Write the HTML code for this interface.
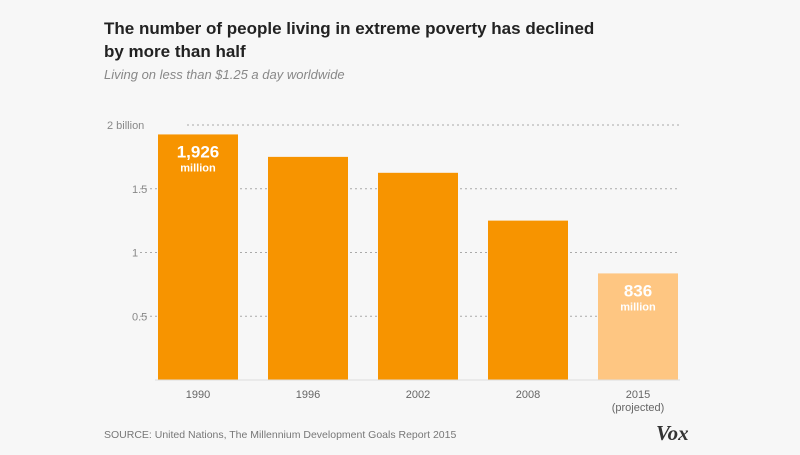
<!DOCTYPE html>
<html><head><meta charset="utf-8"><style>
body{margin:0;background:#f7f7f7;width:800px;height:450px;overflow:hidden;font-family:"Liberation Sans",sans-serif;}
</style></head><body>
<svg width="800" height="450">
<rect width="800" height="450" fill="#f7f7f7"/>
<text x="104" y="34" font-size="17" font-weight="bold" fill="#222">The number of people living in extreme poverty has declined</text>
<text x="104" y="57" font-size="17" font-weight="bold" fill="#222">by more than half</text>
<text x="104" y="79" font-size="13" font-style="italic" fill="#888">Living on less than $1.25 a day worldwide</text>
<g id="grid"></g>
<g id="bars"></g>
<line x1="155" x2="680" y1="380" y2="380" stroke="#ddd"/>
<text x="104" y="438" font-size="10.5" fill="#777">SOURCE: United Nations, The Millennium Development Goals Report 2015</text>
<text x="656" y="440" font-size="21" font-weight="bold" font-style="italic" font-family="Liberation Serif,serif" fill="#333">Vox</text>
</svg>
<script>
const categories=["1990","1996","2002","2008","2015"];
const values=[1.926,1.75,1.625,1.25,0.836];
const tickValues=[0.5,1,1.5,2];
const tickLabels=["0.5","1","1.5","2 billion"];
const NS="http://www.w3.org/2000/svg";
const y=v=>380-v*127.5;
const x=i=>158+i*110;
function mk(t,a,p,txt){const e=document.createElementNS(NS,t);for(const k in a)e.setAttribute(k,a[k]);if(txt!==undefined)e.textContent=txt;p.appendChild(e);return e;}
const g=document.getElementById('grid'),b=document.getElementById('bars');
tickValues.forEach((v,i)=>{
const l=mk('line',{x1:i==3?187:140,x2:680,y1:y(v),y2:y(v),stroke:'#aaa','stroke-dasharray':'2,3'},g);


const t=mk('text',{x:136,y:y(v)+4,'font-size':11,fill:'#888'},g,tickLabels[i]);


if(i==3){t.setAttribute('x',107);}else{t.setAttribute('x',132);}
});
categories.forEach((c,i)=>{
const r=mk('rect',{x:x(i),y:y(values[i]),width:80,height:380-y(values[i]),fill:i==4?'#fec682':'#f79400'},b);


const t=mk('text',{x:x(i)+40,y:398,'font-size':11,fill:'#666','text-anchor':'middle'},b,c);


if(i==4){const t2=mk('text',{x:x(i)+40,y:411,'font-size':11,fill:'#666','text-anchor':'middle'},b,'(projected)');

}
if(i==0||i==4){
const v=mk('text',{x:x(i)+40,y:y(values[i])+23,'font-size':17,'font-weight':'bold',fill:'#fff','text-anchor':'middle'},b,Math.round(values[i]*1000).toLocaleString('en-US'));


const m=mk('text',{x:x(i)+40,y:y(values[i])+37,'font-size':11,'font-weight':'bold',fill:'#fff','text-anchor':'middle'},b,'million');

}
});
</script>
</body></html>
